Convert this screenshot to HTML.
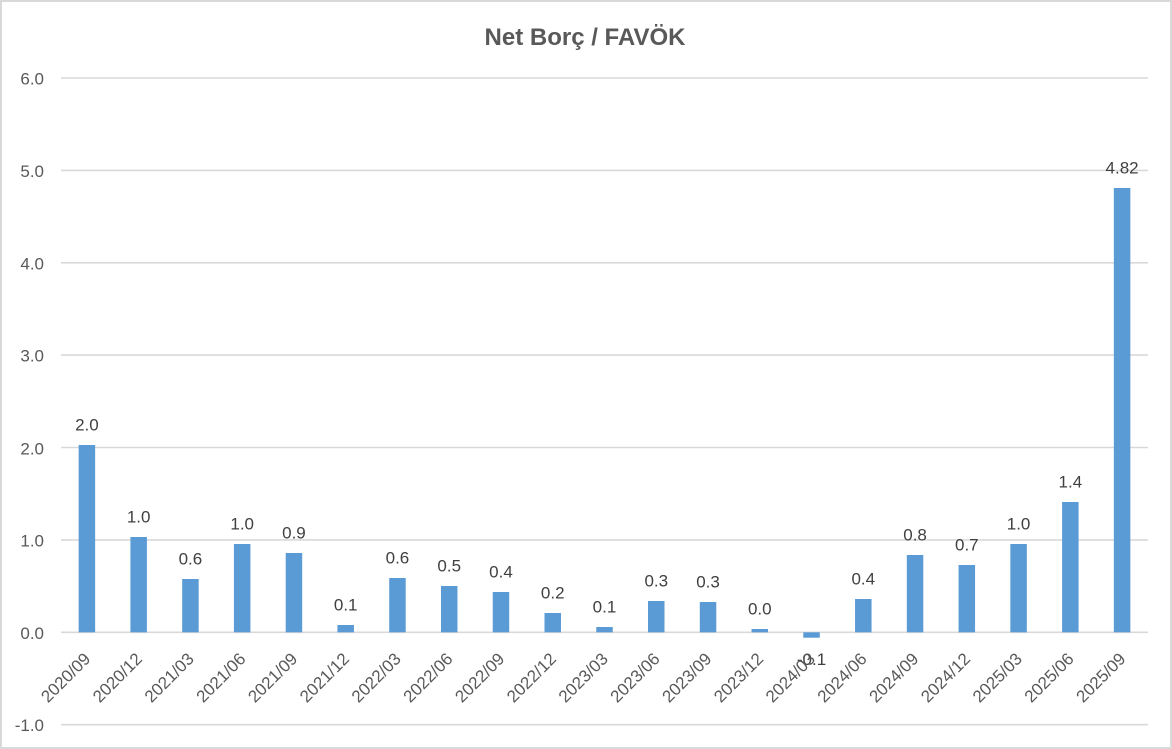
<!DOCTYPE html>
<html>
<head>
<meta charset="utf-8">
<style>
html,body{margin:0;padding:0;background:#fff;}
svg{display:block;}
text{font-family:"Liberation Sans",Arial,sans-serif;}
</style>
</head>
<body>
<svg width="1172" height="749" viewBox="0 0 1172 749" xmlns="http://www.w3.org/2000/svg">
<rect x="0" y="0" width="1172" height="749" fill="#fff"/>
<rect x="1" y="1" width="1170" height="747" fill="none" stroke="#d9d9d9" stroke-width="2"/>
<text x="585" y="45" text-anchor="middle" font-size="24" font-weight="bold" fill="#595959">Net Borç / FAVÖK</text>
<g stroke="#d9d9d9" stroke-width="1.6">
<line x1="61" x2="1148" y1="78" y2="78"/>
<line x1="61" x2="1148" y1="170.4" y2="170.4"/>
<line x1="61" x2="1148" y1="262.8" y2="262.8"/>
<line x1="61" x2="1148" y1="355.1" y2="355.1"/>
<line x1="61" x2="1148" y1="447.5" y2="447.5"/>
<line x1="61" x2="1148" y1="539.9" y2="539.9"/>
<line x1="61" x2="1148" y1="632.3" y2="632.3"/>
<line x1="61" x2="1148" y1="724.7" y2="724.7"/>
</g>
<g font-size="17" fill="#595959" text-anchor="end">
<text x="44" y="84.5">6.0</text>
<text x="44" y="176.9">5.0</text>
<text x="44" y="269.3">4.0</text>
<text x="44" y="361.6">3.0</text>
<text x="44" y="454.5">2.0</text>
<text x="44" y="546.6">1.0</text>
<text x="44" y="638.8">0.0</text>
<text x="44" y="731.2">-1.0</text>
</g>
<g fill="#5b9bd5">
<rect x="78.65" y="445" width="16.5" height="187.3"/>
<rect x="130.41" y="537" width="16.5" height="95.3"/>
<rect x="182.17" y="579" width="16.5" height="53.3"/>
<rect x="233.93" y="544" width="16.5" height="88.3"/>
<rect x="285.69" y="553" width="16.5" height="79.3"/>
<rect x="337.45" y="625" width="16.5" height="7.3"/>
<rect x="389.21" y="578" width="16.5" height="54.3"/>
<rect x="440.97" y="586" width="16.5" height="46.3"/>
<rect x="492.73" y="592" width="16.5" height="40.3"/>
<rect x="544.49" y="613" width="16.5" height="19.3"/>
<rect x="596.25" y="627" width="16.5" height="5.3"/>
<rect x="648.01" y="601" width="16.5" height="31.3"/>
<rect x="699.77" y="602" width="16.5" height="30.3"/>
<rect x="751.53" y="629" width="16.5" height="3.3"/>
<rect x="803.29" y="632.3" width="16.5" height="5.4"/>
<rect x="855.05" y="599" width="16.5" height="33.3"/>
<rect x="906.81" y="555" width="16.5" height="77.3"/>
<rect x="958.57" y="565" width="16.5" height="67.3"/>
<rect x="1010.33" y="544" width="16.5" height="88.3"/>
<rect x="1062.09" y="502" width="16.5" height="130.3"/>
<rect x="1113.85" y="188" width="16.5" height="444.3"/>
</g>
<g font-size="17" fill="#404040" text-anchor="middle">
<text x="86.9" y="430.7">2.0</text>
<text x="138.66" y="522.7">1.0</text>
<text x="190.42" y="564.7">0.6</text>
<text x="242.18" y="529.7">1.0</text>
<text x="293.94" y="538.7">0.9</text>
<text x="345.7" y="610.7">0.1</text>
<text x="397.46" y="563.7">0.6</text>
<text x="449.22" y="571.7">0.5</text>
<text x="500.98" y="577.7">0.4</text>
<text x="552.74" y="598.7">0.2</text>
<text x="604.5" y="612.7">0.1</text>
<text x="656.26" y="586.7">0.3</text>
<text x="708.02" y="587.7">0.3</text>
<text x="759.78" y="614.7">0.0</text>
<text x="811.54" y="665">-0.1</text>
<text x="863.3" y="584.7">0.4</text>
<text x="915.06" y="540.7">0.8</text>
<text x="966.82" y="550.7">0.7</text>
<text x="1018.58" y="529.7">1.0</text>
<text x="1070.34" y="487.7">1.4</text>
<text x="1122.1" y="173.7">4.82</text>
</g>
<g font-size="17" fill="#595959" text-anchor="end">
<text transform="translate(91.4,660) rotate(-45)">2020/09</text>
<text transform="translate(143.16,660) rotate(-45)">2020/12</text>
<text transform="translate(194.92,660) rotate(-45)">2021/03</text>
<text transform="translate(246.68,660) rotate(-45)">2021/06</text>
<text transform="translate(298.44,660) rotate(-45)">2021/09</text>
<text transform="translate(350.2,660) rotate(-45)">2021/12</text>
<text transform="translate(401.96,660) rotate(-45)">2022/03</text>
<text transform="translate(453.72,660) rotate(-45)">2022/06</text>
<text transform="translate(505.48,660) rotate(-45)">2022/09</text>
<text transform="translate(557.24,660) rotate(-45)">2022/12</text>
<text transform="translate(609,660) rotate(-45)">2023/03</text>
<text transform="translate(660.76,660) rotate(-45)">2023/06</text>
<text transform="translate(712.52,660) rotate(-45)">2023/09</text>
<text transform="translate(764.28,660) rotate(-45)">2023/12</text>
<text transform="translate(816.04,660) rotate(-45)">2024/03</text>
<text transform="translate(867.8,660) rotate(-45)">2024/06</text>
<text transform="translate(919.56,660) rotate(-45)">2024/09</text>
<text transform="translate(971.32,660) rotate(-45)">2024/12</text>
<text transform="translate(1023.08,660) rotate(-45)">2025/03</text>
<text transform="translate(1074.84,660) rotate(-45)">2025/06</text>
<text transform="translate(1126.6,660) rotate(-45)">2025/09</text>
</g>
</svg>
</body>
</html>
